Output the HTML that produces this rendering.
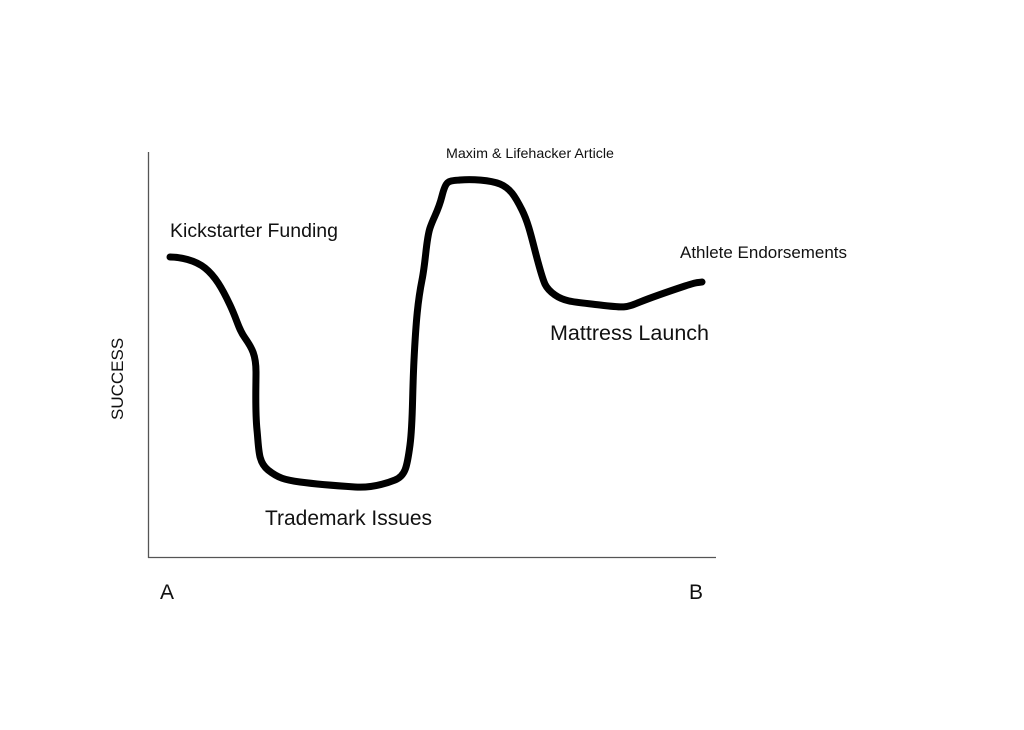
<!DOCTYPE html>
<html><head><meta charset="utf-8"><style>
html,body{margin:0;padding:0;background:#fff}
svg{display:block}
text{font-family:"Liberation Sans",Arial,sans-serif;fill:#111}
</style></head><body>
<svg width="1024" height="730" viewBox="0 0 1024 730">
<line x1="148.5" y1="152" x2="148.5" y2="558" stroke="#555" stroke-width="1.3"/>
<line x1="148" y1="557.5" x2="716" y2="557.5" stroke="#555" stroke-width="1.3"/>
<path d="M170,257 C180,257 195,260 205,268 S222,288 230,305 S238,328 245,338 S256,355 256,372 S255,410 257,430 S258,462 268,470 S285,480 300,482 S340,486 355,487 S385,484 395,480 S407,468 410,445 S412,400 414,360 S418,300 422,280 S426,240 430,228 S438,212 442,196 S448,181 460,180 S490,180 500,184 S515,196 522,210 S532,240 538,262 S545,288 555,295 S575,302 600,305 S625,308 640,302 S670,291 685,286 S698,283 702,282" fill="none" stroke="#000" stroke-width="7" stroke-linecap="round" stroke-linejoin="round"/>
<text x="170" y="237" font-size="19.6" textLength="168" lengthAdjust="spacingAndGlyphs">Kickstarter Funding</text>
<text x="446" y="158" font-size="14" textLength="168" lengthAdjust="spacingAndGlyphs">Maxim &amp; Lifehacker Article</text>
<text x="680" y="258" font-size="17" textLength="167" lengthAdjust="spacingAndGlyphs">Athlete Endorsements</text>
<text x="550" y="340" font-size="21.5" textLength="159" lengthAdjust="spacingAndGlyphs">Mattress Launch</text>
<text x="265" y="525" font-size="21" textLength="167" lengthAdjust="spacingAndGlyphs">Trademark Issues</text>
<text x="160" y="599" font-size="21">A</text>
<text x="689" y="599" font-size="21">B</text>
<text transform="translate(123,420) rotate(-90)" font-size="17">SUCCESS</text>
</svg>
</body></html>
